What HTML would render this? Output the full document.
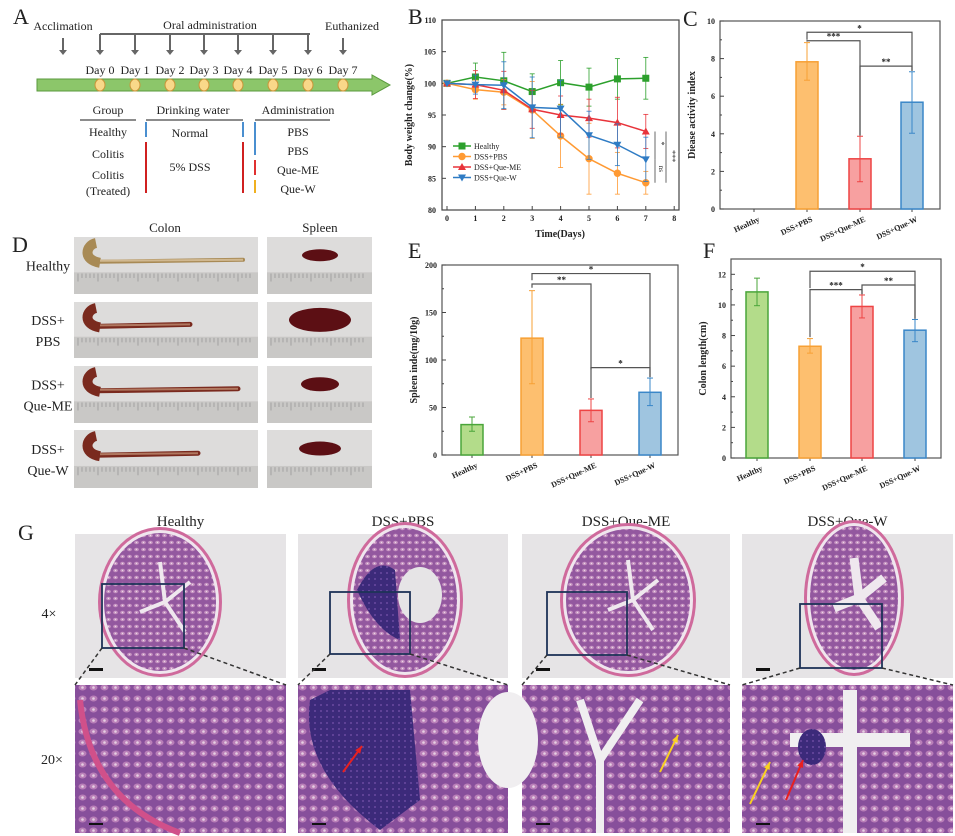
<!DOCTYPE html>
<html><head><meta charset="utf-8"><style>
html,body{margin:0;padding:0;background:#fff;}
svg{display:block;font-family:"Liberation Serif",serif;}
</style></head><body>
<svg id="s" width="955" height="836" viewBox="0 0 955 836" xmlns="http://www.w3.org/2000/svg">
<defs>
<pattern id="crypt" width="7" height="7" patternUnits="userSpaceOnUse">
<rect width="7" height="7" fill="#93589f"/>
<ellipse cx="3.5" cy="3.5" rx="2.4" ry="1.8" fill="#c591c0"/>
<circle cx="3.5" cy="3.5" r="0.7" fill="#e9d6e6"/>
</pattern>
<pattern id="crypt2" width="11" height="11" patternUnits="userSpaceOnUse">
<rect width="11" height="11" fill="#874f9b"/>
<ellipse cx="5.5" cy="5.5" rx="4" ry="3" fill="#b97fb8"/>
<circle cx="5.5" cy="5.5" r="1.3" fill="#e6cfe2"/>
</pattern>
<pattern id="dense" width="6" height="6" patternUnits="userSpaceOnUse">
<rect width="6" height="6" fill="#3c2a7a"/><circle cx="3" cy="3" r="1" fill="#6a4aa0"/>
</pattern>
</defs>
<g id="root"></g>
</svg>
<script>
const R=document.getElementById('root');let h='';
function t(x,y,s,opt){opt=opt||{};h+=`<text x="${x}" y="${y}" font-size="${opt.fs||12}" text-anchor="${opt.a||'middle'}" ${opt.b?'font-weight="bold"':''} fill="${opt.c||'#222'}" ${opt.tr?`transform="${opt.tr}"`:''}>${s}</text>`;}
function l(x1,y1,x2,y2,c,w,d){h+=`<line x1="${x1}" y1="${y1}" x2="${x2}" y2="${y2}" stroke="${c||'#444'}" stroke-width="${w||1}" ${d?`stroke-dasharray="${d}"`:''}/>`;}
function r(x,y,w,hh,f,s,sw){h+=`<rect x="${x}" y="${y}" width="${w}" height="${hh}" fill="${f}" ${s?`stroke="${s}" stroke-width="${sw||1}"`:''}/>`;}
// ---- Panel A
t(13,24,'A',{fs:22,a:'start'});
t(63,30,'Acclimation',{fs:12});
t(210,29,'Oral administration',{fs:12});
t(352,30,'Euthanized',{fs:12});
const dx=[100,135,170,204,238,273,308,343];
l(100,34,310,34,'#666',2);
function arr(x,y1,y2){l(x,y1,x,y2-4,'#666',2);h+=`<polygon points="${x-4},${y2-5} ${x+4},${y2-5} ${x},${y2}" fill="#666"/>`;}
arr(63,38,55);arr(343,38,55);
for(let i=0;i<7;i++)arr(dx[i],34,55);
h+=`<polygon points="37,79 372,79 372,75 390,85 372,95 372,91 37,91" fill="#8cc66a" stroke="#5a9a3e"/>`;
dx.forEach((x,i)=>{t(x,74,'Day '+i,{fs:12});h+=`<ellipse cx="${x}" cy="85" rx="5" ry="6" fill="#f9d889" stroke="#c8963a"/>`;});
t(108,114,'Group');l(80,120,136,120,'#666',1.5);
t(193,114,'Drinking water');t(298,114,'Administration');
l(146,120,243,120,'#666',1.5);l(255,120,330,120,'#666',1.5);
t(108,136,'Healthy');t(108,158,'Colitis');t(108,179,'Colitis');t(108,195,'(Treated)');
t(190,137,'Normal');t(190,171,'5% DSS');
t(298,136,'PBS');t(298,155,'PBS');t(298,174,'Que-ME');t(298,193,'Que-W');
l(146,122,146,137,'#4a8fd0',2);l(146,142,146,193,'#d02020',2);
l(243,122,243,137,'#4a8fd0',2);l(243,142,243,193,'#d02020',2);
l(255,122,255,155,'#4a8fd0',2);l(255,160,255,175,'#e03030',2);l(255,180,255,193,'#f0b020',2);
// ---- Panel D
t(12,252,'D',{fs:22,a:'start'});
t(165,232,'Colon',{fs:13});t(320,232,'Spleen',{fs:13});
const rows=[[237,294],[302,358],[366,423],[430,488]];
const lab=[['Healthy'],['DSS+','PBS'],['DSS+','Que-ME'],['DSS+','Que-W']];
const clen=[243,190,238,198];
rows.forEach((rw,i)=>{
 const y=rw[0],hh=rw[1]-rw[0];
 r(74,y,184,hh,'#dddcdb');r(267,y,105,hh,'#dddcdb');
 r(74,y+hh*0.62,184,hh*0.38,'#c9c8c6');r(267,y+hh*0.62,105,hh*0.38,'#c9c8c6');
 for(let k=0;k<44;k++){l(78+k*4,y+hh*0.64,78+k*4,y+hh*(k%5?0.72:0.78),'#888',0.6);}
 for(let k=0;k<24;k++){l(271+k*4,y+hh*0.64,271+k*4,y+hh*(k%5?0.72:0.78),'#888',0.6);}
 const cy=y+hh*0.4;const col=i==0?'#a88a55':'#7a2a1e';
 h+=`<path d="M93,${y+8} C84,${y+10} 84,${cy+3} 96,${cy+2} L${clen[i]},${cy}" stroke="${col}" stroke-width="${i==0?4:5}" fill="none" stroke-linecap="round"/>`;
 h+=`<path d="M96,${y+6} C86,${y+8} 82,${cy} 100,${cy+3}" stroke="${col}" stroke-width="10" fill="none"/>`;
 l(100,cy+1,clen[i],cy,i==0?'#d0b890':'#b07860',2);
 const sw=[36,62,38,42][i],sh=[6,12,7,7][i];
 h+=`<ellipse cx="${320}" cy="${y+hh*0.32}" rx="${sw/2}" ry="${sh}" fill="#5c0f14"/>`;
 t(48,y+hh/2+(lab[i].length>1?-5:5),lab[i][0],{fs:14});
 if(lab[i][1])t(48,y+hh/2+16,lab[i][1],{fs:14});
});
// ---- Panel B
t(408,24,'B',{fs:22,a:'start'});
const bx0=447,bdx=28.4,by=v=>20+(110-v)*6.333;
r(442,20,237,190,'none','#444',1.2);
for(let v=80;v<=110;v+=5){l(442,by(v),446,by(v));t(436,by(v)+3,v,{fs:8,b:1,a:'end'});}
for(let d=0;d<=8;d++){l(bx0+d*bdx,210,bx0+d*bdx,206);t(bx0+d*bdx,221,d,{fs:8,b:1});}
t(560,237,'Time(Days)',{fs:10,b:1});
t(0,0,'Body weight change(%)',{fs:10,b:1,tr:'translate(412,115) rotate(-90)'});
const S=[
 ['#2ca02c','s',[100,101,100.4,98.7,100.1,99.4,100.7,100.8],[0,2.2,4.5,2.8,3.5,3,3.2,3.3],'Healthy'],
 ['#ff9a33','o',[100,99,98.6,95.8,91.7,88.1,85.8,84.3],[0,1.5,2,4.5,5,5.6,3.3,1.8],'DSS+PBS'],
 ['#e8333a','t',[100,99.8,98.9,95.9,95,94.5,93.8,92.4],[0,2.2,3,3,3,3,4,2.7],'DSS+Que-ME'],
 ['#2e7bc4','v',[100,99.8,99.7,96.2,96,91.8,90.3,88],[0,1.5,3.7,4.8,4.5,3.8,3.3,3.5],'DSS+Que-W']];
function mk(m,x,y,c){if(m=='s')r(x-3.5,y-3.5,7,7,c);else if(m=='o')h+=`<circle cx="${x}" cy="${y}" r="3.7" fill="${c}"/>`;else if(m=='t')h+=`<polygon points="${x-4},${y+3} ${x+4},${y+3} ${x},${y-4}" fill="${c}"/>`;else h+=`<polygon points="${x-4},${y-3} ${x+4},${y-3} ${x},${y+4}" fill="${c}"/>`;}
S.forEach(s=>{let p=s[2].map((v,i)=>`${bx0+i*bdx},${by(v)}`).join(' ');
 s[2].forEach((v,i)=>{const x=bx0+i*bdx;if(s[3][i]){l(x,by(v-s[3][i]),x,by(v+s[3][i]),s[0],0.8);l(x-2.5,by(v-s[3][i]),x+2.5,by(v-s[3][i]),s[0],0.8);l(x-2.5,by(v+s[3][i]),x+2.5,by(v+s[3][i]),s[0],0.8);}});
 h+=`<polyline points="${p}" fill="none" stroke="${s[0]}" stroke-width="1.5"/>`;
 s[2].forEach((v,i)=>mk(s[1],bx0+i*bdx,by(v),s[0]));});
S.forEach((s,i)=>{const y=146+i*10.5;l(453,y,471,y,s[0],1.5);mk(s[1],462,y,s[0]);t(474,y+3,s[4],{fs:8,a:'start'});});
l(655,by(92.4),655,by(88),'#444',0.8);t(0,0,'*',{fs:8,tr:'translate(659,'+by(90.5)+') rotate(90)'});
l(655,by(88),655,by(84.3),'#444',0.8);t(0,0,'ns',{fs:7,tr:'translate(659,'+by(86.5)+') rotate(90)'});
l(666,by(92.4),666,by(84.3),'#444',0.8);t(0,0,'***',{fs:8,tr:'translate(670,'+by(88.5)+') rotate(90)'});
function bars(o){
 const {x0,x1,y0,y1,max,step,cx,vals,err,fill,st,ylab,br}=o;const Y=v=>y1-(v/max)*(y1-y0);
 r(x0,y0,x1-x0,y1-y0,'none','#555',1.2);
 for(let v=0;v<=max+1e-9;v+=step){l(x0,Y(v),x0+4,Y(v));t(x0-5,Y(v)+3,v,{fs:8,b:1,a:'end'});}
 for(let v=step/2;v<max;v+=step)l(x0,Y(v),x0+2,Y(v));
 const names=['Healthy','DSS+PBS','DSS+Que-ME','DSS+Que-W'];
 cx.forEach((c,i)=>{l(c,y1,c,y1+3);t(0,0,names[i],{fs:8,b:1,a:'end',tr:`translate(${c+6},${y1+12}) rotate(-25)`});
  if(vals[i]>0){r(c-11,Y(vals[i]),22,Y(0)-Y(vals[i]),fill[i],st[i],1.5);
  const e=err[i];l(c,Y(e[0]),c,Y(e[1]),st[i],1);l(c-3,Y(e[0]),c+3,Y(e[0]),st[i],1);l(c-3,Y(e[1]),c+3,Y(e[1]),st[i],1);}});
 t(0,0,ylab,{fs:10,b:1,tr:`translate(${x0-25},${(y0+y1)/2}) rotate(-90)`});
 br.forEach(b=>{const[a,bb,yv,ya,yb,s]=b;h+=`<polyline points="${cx[a]},${Y(ya)} ${cx[a]},${Y(yv)} ${cx[bb]},${Y(yv)} ${cx[bb]},${Y(yb)}" fill="none" stroke="#555" stroke-width="1.2"/>`;t((cx[a]+cx[bb])/2,Y(yv)-1,s,{fs:9,b:1});});
}
const F=['#b3dc8a','#fdbf6f','#f7a0a0','#9fc5e0'],ST=['#4aa53a','#f7a035','#ee4444','#3a87c8'];
t(683,26,'C',{fs:22,a:'start'});
bars({x0:720,x1:940,y0:21,y1:209,max:10,step:2,cx:[754,807,860,912],vals:[0,7.83,2.67,5.68],err:[[0,0],[6.85,8.85],[1.45,3.87],[4.03,7.3]],fill:F,st:ST,ylab:'Diease activity index',
 br:[[1,3,9.4,9,7.35,'*'],[1,2,8.95,8.9,3.9,'***'],[2,3,7.6,3.9,7.35,'**']]});
t(408,258,'E',{fs:22,a:'start'});
bars({x0:442,x1:678,y0:265,y1:455,max:200,step:50,cx:[472,532,591,650],vals:[32,123,47,66],err:[[25,40],[75,173],[35,59],[52,81]],fill:F,st:ST,ylab:'Spleen inde(mg/10g)',
 br:[[1,3,191,184,82,'*'],[1,2,180,176,90,'**'],[2,3,92,60,82,'*']]});
t(703,258,'F',{fs:22,a:'start'});
bars({x0:731,x1:941,y0:259,y1:458,max:13,step:2,cx:[757,810,862,915],vals:[10.85,7.3,9.9,8.35],err:[[9.95,11.75],[6.85,7.8],[9.15,10.65],[7.6,9.05]],fill:F,st:ST,ylab:'Colon length(cm)',
 br:[[1,3,12.2,11.1,9.1,'*'],[1,2,11.0,7.9,10.7,'***'],[2,3,11.3,10.7,9.1,'**']]});
// ---- Panel G
t(18,540,'G',{fs:22,a:'start'});
const cols=[[75,286],[298,508],[522,730],[742,953]];
['Healthy','DSS+PBS','DSS+Que-ME','DSS+Que-W'].forEach((n,i)=>t((cols[i][0]+cols[i][1])/2,526,n,{fs:15}));
t(49,618,'4×',{fs:14});t(52,764,'20×',{fs:14});
const circ=[[160,602,62,75],[405,600,58,78],[628,600,68,77],[854,598,50,78]];
cols.forEach((c,i)=>{
 const w=c[1]-c[0];
 r(c[0],534,w,144,'#e6e4e6');
 const[cx,cy,rx,ry]=circ[i];
 h+=`<ellipse cx="${cx}" cy="${cy}" rx="${rx}" ry="${ry}" fill="#cf6a9c"/>`;
 h+=`<ellipse cx="${cx}" cy="${cy}" rx="${rx-3}" ry="${ry-3}" fill="#f0e6ee"/>`;
 h+=`<ellipse cx="${cx}" cy="${cy}" rx="${rx-6}" ry="${ry-6}" fill="url(#crypt)"/>`;
 if(i==1){h+=`<ellipse cx="${cx+15}" cy="${cy-5}" rx="22" ry="28" fill="#e6e4e6"/>`;h+=`<path d="M${cx-48},${cy-10} Q${cx-30},${cy-45} ${cx-10},${cy-30} L${cx-5},${cy+40} Q${cx-30},${cy+30} ${cx-48},${cy-10}Z" fill="url(#dense)"/>`;}
 else{h+=`<path d="M${cx},${cy-40} L${cx+5},${cy} L${cx-20},${cy+10} M${cx+5},${cy} L${cx+25},${cy+30} M${cx+5},${cy} L${cx+30},${cy-20}" stroke="#efe8ee" stroke-width="${i==3?9:4}" fill="none"/>`;}
 r(c[0]+14,668,14,3,'#111');
 r(c[0],685,w,148,'#ead8e6');
 h+=`<rect x="${c[0]}" y="685" width="${w}" height="148" fill="url(#crypt2)"/>`;
 r(c[0]+14,823,14,2,'#111');
});
h+=`<path d="M80,700 Q90,800 180,833" stroke="#d0508a" stroke-width="6" fill="none"/>`;
h+=`<path d="M310,700 Q300,770 380,830 L420,800 L410,690 L330,690Z" fill="url(#dense)"/>`;
h+=`<ellipse cx="508" cy="740" rx="30" ry="48" fill="#f0eef0"/>`;
h+=`<path d="M580,700 L600,760 L640,700 M600,760 L600,833" stroke="#f0eef0" stroke-width="8" fill="none"/>`;
h+=`<path d="M850,690 L850,833 M790,740 L910,740" stroke="#f0eef0" stroke-width="14" fill="none"/>`;
h+=`<ellipse cx="812" cy="747" rx="14" ry="18" fill="url(#dense)"/>`;
function ar(x1,y1,x2,y2,c){l(x1,y1,x2,y2,c,2);const a=Math.atan2(y2-y1,x2-x1);const p=[[x2,y2],[x2-8*Math.cos(a-0.4),y2-8*Math.sin(a-0.4)],[x2-8*Math.cos(a+0.4),y2-8*Math.sin(a+0.4)]];h+=`<polygon points="${p.join(' ')}" fill="${c}"/>`;}
ar(343,772,362,746,'#e82020');ar(660,772,678,735,'#f8d020');ar(750,804,770,762,'#f8d020');ar(786,800,803,760,'#e82020');
const bb=[[102,584,82,64],[330,592,80,62],[547,592,80,63],[800,604,82,64]];
bb.forEach((b,i)=>{r(b[0],b[1],b[2],b[3],'none','#1e3358',1.8);const c=cols[i];l(b[0],b[1]+b[3],c[0],685,'#333',1.5,'4,3');l(b[0]+b[2],b[1]+b[3],c[1],685,'#333',1.5,'4,3');});
R.innerHTML=h;
</script>
</body></html>
